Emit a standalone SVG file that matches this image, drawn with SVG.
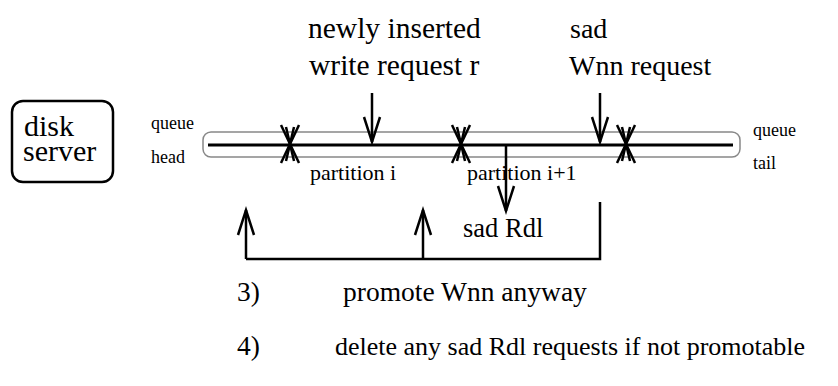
<svg xmlns="http://www.w3.org/2000/svg" width="838" height="386" viewBox="0 0 838 386">
<defs>
<style>
.t{font-family:'Liberation Serif',serif;fill:#000}
.ln{stroke:#000;stroke-width:2.5;fill:none}
.x{stroke:#000;stroke-width:2.5}
</style>
<marker id="v" markerUnits="userSpaceOnUse" markerWidth="60" markerHeight="60" viewBox="-30 -30 60 60" refX="0" refY="0" orient="auto" overflow="visible">
<path d="M-25,-8 L0,0 L-25,8" fill="none" stroke="#000" stroke-width="2.5"/>
</marker>
</defs>
<rect width="838" height="386" fill="#fff"/>

<g id="disk-server">
<rect x="12" y="101" width="101" height="81" rx="11" fill="none" stroke="#000" stroke-width="2.5"/>
<text x="24" y="136" class="t" font-family="Liberation Serif" font-size="30">disk</text>
<text x="23" y="161" class="t" font-family="Liberation Serif" font-size="30">server</text>
</g>

<g id="queue">
<rect x="203" y="132" width="537" height="25" rx="8" fill="none" stroke="#888" stroke-width="1.5"/>
<line x1="208" y1="145" x2="733" y2="145" stroke="#000" stroke-width="3"/>
<text x="151" y="129" class="t" font-family="Liberation Serif" font-size="18">queue</text>
<text x="151" y="163" class="t" font-family="Liberation Serif" font-size="18">head</text>
<text x="753" y="136" class="t" font-family="Liberation Serif" font-size="18">queue</text>
<text x="753" y="169" class="t" font-family="Liberation Serif" font-size="18">tail</text>
</g>

<g id="partition-marks">
<g transform="translate(290,0)"><line class="x" x1="-9" y1="125" x2="9" y2="163"/><line class="x" x1="9" y1="125" x2="-9" y2="163"/><line class="x" x1="-4" y1="127" x2="4" y2="161"/><line class="x" x1="4" y1="127" x2="-4" y2="161"/></g>
<g transform="translate(461,0)"><line class="x" x1="-9" y1="125" x2="9" y2="163"/><line class="x" x1="9" y1="125" x2="-9" y2="163"/><line class="x" x1="-4" y1="127" x2="4" y2="161"/><line class="x" x1="4" y1="127" x2="-4" y2="161"/></g>
<g transform="translate(626,0)"><line class="x" x1="-9" y1="125" x2="9" y2="163"/><line class="x" x1="9" y1="125" x2="-9" y2="163"/><line class="x" x1="-4" y1="127" x2="4" y2="161"/><line class="x" x1="4" y1="127" x2="-4" y2="161"/></g>
<text x="310" y="180" class="t" font-family="Liberation Serif" font-size="22">partition i</text>
<text x="467" y="180" class="t" font-family="Liberation Serif" font-size="22">partition i+1</text>
</g>

<g id="new-request">
<text x="308" y="38" class="t" font-family="Liberation Serif" font-size="29.5">newly inserted</text>
<text x="309" y="75" class="t" font-family="Liberation Serif" font-size="29.5">write request r</text>
</g>

<g id="sad-wnn">
<text x="570" y="38" class="t" font-family="Liberation Serif" font-size="28">sad</text>
<text x="569" y="75" class="t" font-family="Liberation Serif" font-size="28">Wnn request</text>
</g>

<g id="sad-rdl">
<text x="463" y="237" class="t" font-family="Liberation Serif" font-size="26.5">sad Rdl</text>
</g>

<g id="connectors">
<line class="ln" x1="372" y1="93" x2="372" y2="142" marker-end="url(#v)"/>
<line class="ln" x1="600" y1="93" x2="600" y2="142" marker-end="url(#v)"/>
<line class="ln" x1="506" y1="145" x2="506" y2="211" marker-end="url(#v)"/>
<polyline class="ln" points="246,259 600,259 600,202"/>
<line class="ln" x1="246" y1="259" x2="246" y2="210" marker-end="url(#v)"/>
<line class="ln" x1="423" y1="259" x2="423" y2="210" marker-end="url(#v)"/>
</g>

<g id="notes">
<text x="237" y="301" class="t" font-family="Liberation Serif" font-size="27.5">3)</text>
<text x="343" y="301" class="t" font-family="Liberation Serif" font-size="27.5">promote Wnn anyway</text>
<text x="237" y="355" class="t" font-family="Liberation Serif" font-size="27.5">4)</text>
<text x="335" y="355" class="t" font-family="Liberation Serif" font-size="26">delete any sad Rdl requests if not promotable</text>
</g>
</svg>
